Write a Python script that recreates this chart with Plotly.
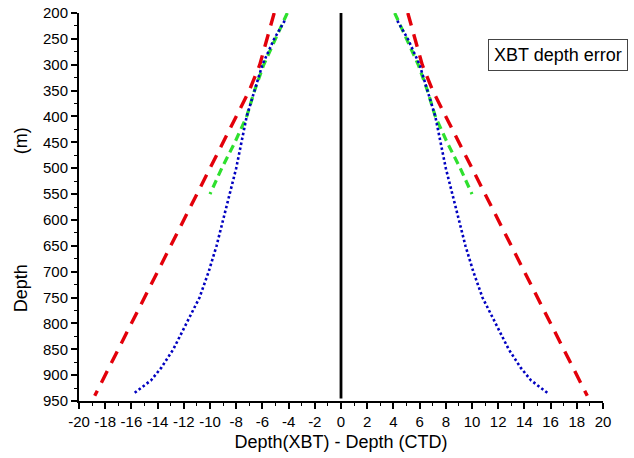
import plotly.graph_objects as go

# Depths (m) and magnitude of depth error (m); plotted symmetrically (±)
red_depth = [200, 275, 300, 350, 400, 500, 600, 700, 800, 900, 940]
red_err = [5.1, 5.9, 6.2, 7.0, 8.0, 10.0, 12.0, 14.0, 16.0, 18.0, 18.8]

green_depth = [200, 250, 300, 350, 400, 450, 500, 550]
green_err = [4.1, 5.0, 5.9, 6.6, 7.2, 8.1, 9.1, 10.0]

blue_depth = [215, 250, 300, 350, 400, 450, 500, 550, 600, 650, 700, 750, 800, 850, 885, 910, 935]
blue_err = [4.3, 5.1, 6.0, 6.6, 7.2, 7.6, 8.0, 8.5, 9.0, 9.5, 10.1, 10.8, 11.8, 12.8, 13.7, 14.5, 15.8]

zero_depth = [200, 945]
zero_x = [0, 0]

x_ticks = list(range(-20, 21, 2))
y_ticks = list(range(200, 951, 50))

FONT = "Liberation Sans, Arial, sans-serif"

fig = go.Figure()

def add_pair(depth, err, color, dash, width):
    for sign in (-1, 1):
        fig.add_trace(go.Scatter(
            x=[sign * v for v in err], y=depth, mode="lines",
            line=dict(color=color, dash=dash, width=width),
            showlegend=False, hoverinfo="skip"))

add_pair(red_depth, red_err, "#e3000a", "13px,9px", 3.4)
add_pair(green_depth, green_err, "#2ee02e", "8px,5px", 3.2)
add_pair(blue_depth, blue_err, "#0000c0", "2.5px,2.5px", 2.6)

fig.add_trace(go.Scatter(x=zero_x, y=zero_depth, mode="lines",
                         line=dict(color="black", width=2.8),
                         showlegend=False, hoverinfo="skip"))

fig.add_annotation(
    text="XBT depth error", xref="paper", yref="paper",
    x=1.048, y=0.932, xanchor="right", yanchor="top", showarrow=False,
    font=dict(family=FONT, size=18, color="black"),
    bordercolor="#444", borderwidth=1, borderpad=5, bgcolor="white")

# y-axis title (placed as rotated text to match the reference position)
fig.add_annotation(
    text="Depth" + "\u00a0" * 22 + "(m)", xref="paper", yref="paper",
    x=-0.109, y=0.468, xanchor="center", yanchor="middle", showarrow=False,
    textangle=-90, font=dict(family=FONT, size=18, color="black"))

fig.update_layout(
    width=634, height=458,
    margin=dict(l=79, r=31, t=13, b=57),
    paper_bgcolor="white", plot_bgcolor="white",
    font=dict(family=FONT, size=15, color="black"),
    xaxis=dict(
        range=[-20, 20], tickvals=x_ticks, ticktext=[str(v) for v in x_ticks],
        showgrid=False, zeroline=False, showline=True, linecolor="black", linewidth=2,
        ticks="outside", ticklen=6, tickwidth=1.5, tickcolor="black",
        minor=dict(dtick=1, ticks="outside", ticklen=3, tickwidth=1.2, tickcolor="black"),
        tickfont=dict(size=15), automargin=False,
        title=dict(text="Depth(XBT) - Depth (CTD)", font=dict(size=18), standoff=6),
    ),
    yaxis=dict(
        range=[950, 200], tickvals=y_ticks, ticktext=[str(v) for v in y_ticks],
        showgrid=False, zeroline=False, showline=True, linecolor="black", linewidth=2,
        ticks="outside", ticklen=6, tickwidth=1.5, tickcolor="black",
        minor=dict(dtick=25, ticks="outside", ticklen=3, tickwidth=1.2, tickcolor="black"),
        tickfont=dict(size=15), automargin=False,
    ),
)

fig.write_html("out.html", config={"displayModeBar": False},
               post_script="document.body.style.margin='0';")
